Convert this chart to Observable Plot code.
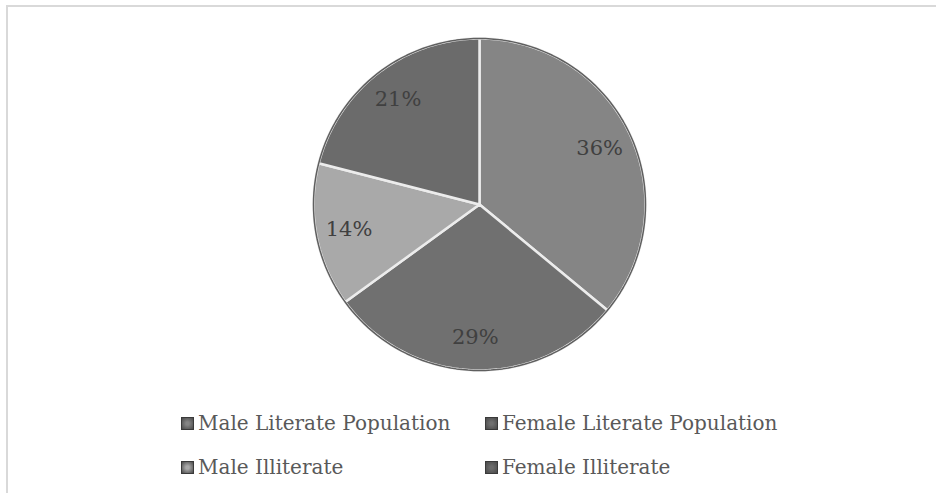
<!DOCTYPE html>
<html>
<head>
<meta charset="utf-8">
<script src="https://cdn.jsdelivr.net/npm/d3@7"></script>
<script src="https://cdn.jsdelivr.net/npm/@observablehq/plot@0.6"></script>
<style>
  html, body { margin: 0; padding: 0; background: #fff; overflow: hidden; }
  #frame { position: absolute; left: 6px; top: 5px; width: 940px; height: 500px;
           border-left: 2px solid #d9d9d9; border-top: 2px solid #d9d9d9; }
  #chart { position: absolute; left: 0; top: 0; }
  .legend { position: absolute; font-family: "DejaVu Serif", "Liberation Serif", serif;
            font-size: 20px; color: #595959; white-space: nowrap; }
  .legend .item { position: absolute; display: flex; align-items: center; }
  .legend .sw { width: 11px; height: 11px; border: 1px solid #3a3a3a; margin-right: 4px; }
</style>
</head>
<body>
<div id="frame"><div id="chart"></div><div class="legend" id="legend"></div></div>
<script>
const categories = ["Male Literate Population", "Female Literate Population", "Male Illiterate", "Female Illiterate"];
const values = [36, 29, 14, 21];
const labels = ["36%", "29%", "14%", "21%"];
const colors = ["#858585", "#707070", "#a9a9a9", "#6b6b6b"];

const W = 930, H = 390;
const cx = 471, cy = 197, R = 166;

const pie = d3.pie().sort(null).value(d => d.value)(categories.map((c, i) => ({cat: c, value: values[i], label: labels[i]})));

// polygon vertices for each slice (angle measured clockwise from top)
const pts = [];
pie.forEach(p => {
  const n = Math.max(8, Math.ceil((p.endAngle - p.startAngle) / 0.02));
  pts.push({cat: p.data.cat, x: 0, y: 0});
  for (let k = 0; k <= n; k++) {
    const a = p.startAngle + (p.endAngle - p.startAngle) * k / n;
    pts.push({cat: p.data.cat, x: Math.sin(a), y: Math.cos(a)});
  }
  pts.push({cat: p.data.cat, x: 0, y: 0});
});
const ring = d3.range(0, 361, 2).map(d => ({x: Math.sin(d * Math.PI / 180), y: Math.cos(d * Math.PI / 180)}));

const lab = pie.map(p => {
  const a = (p.startAngle + p.endAngle) / 2;
  return {x: 0.8 * Math.sin(a), y: 0.8 * Math.cos(a), label: p.data.label};
});

const chart = Plot.plot({
  width: W, height: H,
  margin: 0,
  x: {domain: [-cx / R, (W - cx) / R], axis: null},
  y: {domain: [-(H - cy) / R, cy / R], axis: null},
  color: {domain: categories, range: colors},
  marks: [
    Plot.line(pts, {x: "x", y: "y", z: "cat", fill: "cat", stroke: "#ececec", strokeWidth: 2.5, strokeLinejoin: "round", curve: "linear"}),
    Plot.line(ring, {x: "x", y: "y", stroke: "#5f5f5f", strokeWidth: 1.5}),
    Plot.text(lab, {x: "x", y: "y", text: "label", fontSize: 21, fill: "#404040",
                    fontFamily: "DejaVu Serif, Liberation Serif, serif"})
  ]
});
document.getElementById("chart").appendChild(chart);

const leg = document.getElementById("legend");
const pos = [[173, 404], [477, 404], [173, 448], [477, 448]];
categories.forEach((c, i) => {
  const it = document.createElement("div");
  it.className = "item";
  it.style.left = pos[i][0] + "px";
  it.style.top = pos[i][1] + "px";
  const sw = document.createElement("span");
  sw.className = "sw";
  sw.style.background = `radial-gradient(circle, ${colors[i]} 20%, #4a4a4a 100%)`;
  const t = document.createElement("span");
  t.textContent = c;
  it.appendChild(sw); it.appendChild(t);
  leg.appendChild(it);
});
</script>
</body>
</html>
